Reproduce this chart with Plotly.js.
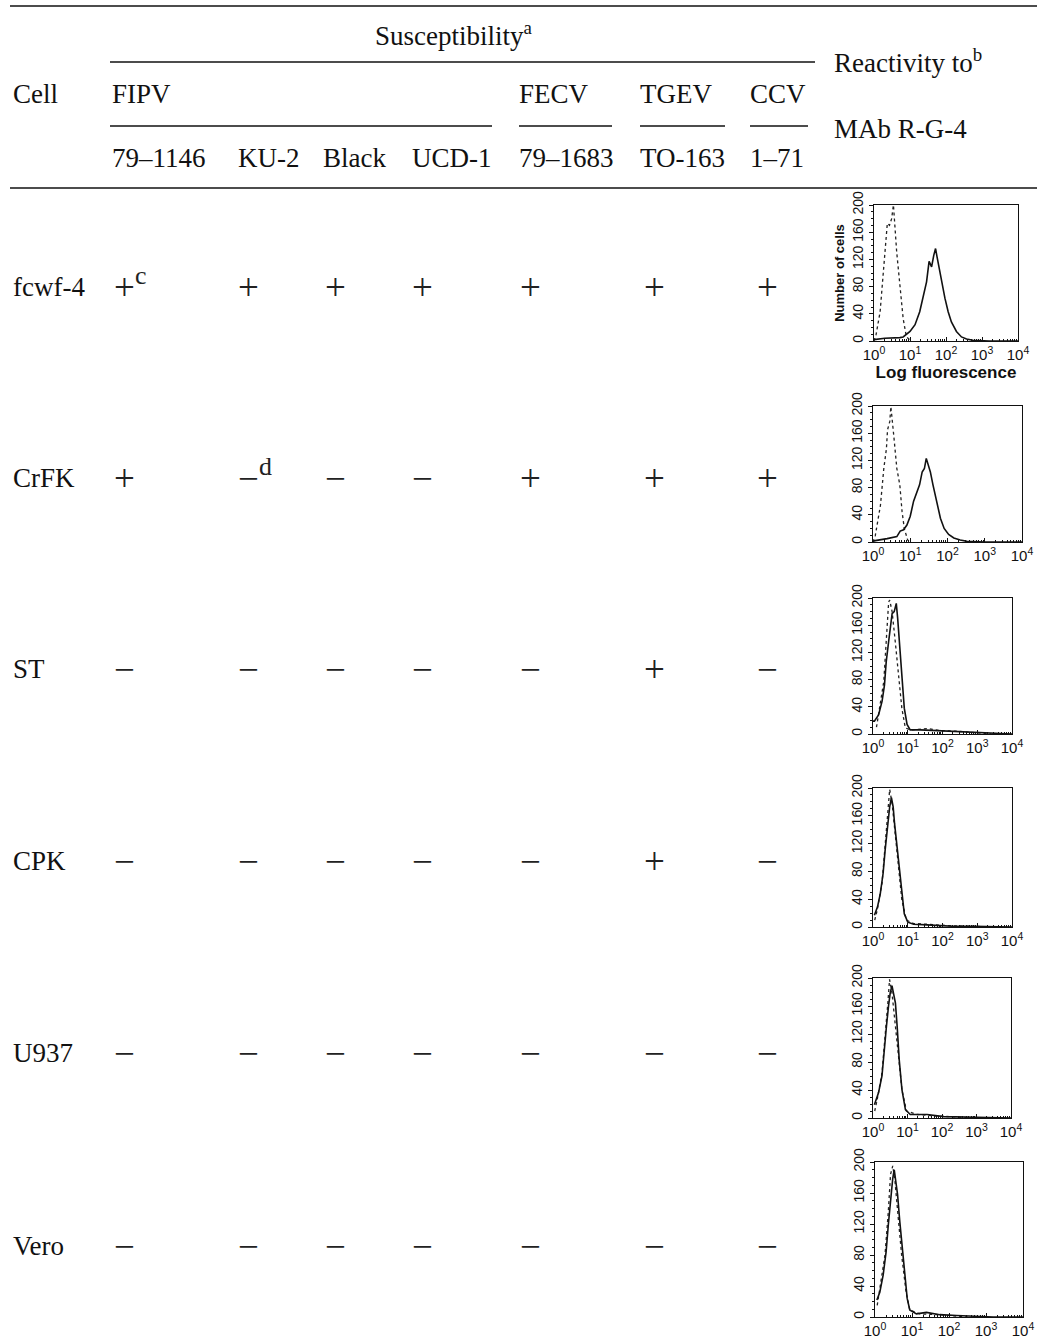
<!DOCTYPE html>
<html>
<head>
<meta charset="utf-8">
<script src="https://cdn.plot.ly/plotly-3.0.1.min.js"></script>
<style>html,body{margin:0;padding:0;background:#fff;}#chart{width:1037px;height:1339px;}</style>
</head>
<body>
<div id="chart"></div>
<script>
// ---------------- DATA ----------------
const cells = ['fcwf-4', 'CrFK', 'ST', 'CPK', 'U937', 'Vero'];
const virusGroups = ['FIPV', 'FECV', 'TGEV', 'CCV'];
const strains = ['79\u20131146', 'KU-2', 'Black', 'UCD-1', '79\u20131683', 'TO-163', '1\u201371'];
const susceptibility = [
  ['+', '+', '+', '+', '+', '+', '+'],
  ['+', '\u2212', '\u2212', '\u2212', '+', '+', '+'],
  ['\u2212', '\u2212', '\u2212', '\u2212', '\u2212', '+', '\u2212'],
  ['\u2212', '\u2212', '\u2212', '\u2212', '\u2212', '+', '\u2212'],
  ['\u2212', '\u2212', '\u2212', '\u2212', '\u2212', '\u2212', '\u2212'],
  ['\u2212', '\u2212', '\u2212', '\u2212', '\u2212', '\u2212', '\u2212']
];
const footnoteMarks = [['c', '', '', '', '', '', ''], ['', 'd', '', '', '', '', ''], [], [], [], []];
const headerSuscept = 'Susceptibility';
const headerReact1 = 'Reactivity to';
const headerReact2 = 'MAb R-G-4';
const yTicks = [0, 40, 80, 120, 160, 200];
const xTickExp = [0, 1, 2, 3, 4];

// Histograms: log10 fluorescence (decades) and number of cells
const fcwf4_ctrl_log = [0.0, 0.06, 0.17, 0.26, 0.37, 0.43, 0.49, 0.54, 0.63, 0.72, 0.81, 0.9, 1.04];
const fcwf4_ctrl_cnt = [0, 10, 43, 107, 173, 170, 180, 200, 131, 82, 33, 6, 0];
const fcwf4_mab_log = [0.0, 0.3, 0.72, 0.81, 1.0, 1.14, 1.27, 1.37, 1.46, 1.53, 1.6, 1.66, 1.71, 1.75, 1.81, 1.88, 1.97, 2.06, 2.15, 2.29, 2.43, 2.57, 2.75, 3.2, 4.0];
const fcwf4_mab_cnt = [2, 4, 5, 6, 14, 24, 43, 68, 87, 117, 109, 126, 136, 124, 107, 87, 63, 43, 28, 14, 6, 3, 1, 0, 0];

const crfk_ctrl_log = [0.0, 0.06, 0.2, 0.29, 0.36, 0.39, 0.45, 0.48, 0.56, 0.64, 0.72, 0.78, 0.84, 0.93, 1.0];
const crfk_ctrl_cnt = [0, 9, 54, 108, 137, 165, 177, 199, 155, 108, 84, 45, 20, 3, 0];
const crfk_mab_log = [0.0, 0.06, 0.38, 0.64, 0.73, 0.82, 0.91, 1.0, 1.09, 1.18, 1.25, 1.32, 1.38, 1.43, 1.47, 1.54, 1.61, 1.7, 1.81, 1.91, 2.03, 2.17, 2.34, 2.52, 3.0, 4.0];
const crfk_mab_cnt = [1, 2, 5, 8, 16, 18, 25, 38, 60, 74, 84, 103, 108, 123, 116, 103, 84, 60, 35, 20, 11, 6, 3, 1, 0, 0];

const st_ctrl_log = [0.1, 0.16, 0.31, 0.38, 0.45, 0.48, 0.55, 0.64, 0.74, 0.83, 0.93, 1.07, 1.56, 1.94, 2.42, 2.9, 3.4];
const st_ctrl_cnt = [10, 28, 77, 136, 194, 197, 180, 136, 87, 38, 9, 6, 8, 5, 4, 2, 0];
const st_mab_log = [0.0, 0.04, 0.16, 0.26, 0.33, 0.38, 0.45, 0.5, 0.55, 0.61, 0.67, 0.71, 0.77, 0.83, 0.9, 0.98, 1.07, 1.36, 1.75, 2.23, 2.51, 2.9, 3.3, 4.0];
const st_mab_cnt = [19, 19, 28, 48, 72, 106, 136, 160, 177, 180, 192, 170, 126, 77, 38, 14, 6, 6, 5, 4, 4, 2, 1, 0];

const cpk_ctrl_log = [0.05, 0.12, 0.26, 0.35, 0.43, 0.48, 0.55, 0.64, 0.74, 0.83, 0.96, 1.17, 1.55, 2.13, 2.9, 3.5];
const cpk_ctrl_cnt = [10, 24, 63, 116, 168, 198, 178, 130, 82, 39, 10, 5, 4, 2, 1, 0];
const cpk_mab_log = [0.04, 0.13, 0.21, 0.29, 0.35, 0.42, 0.48, 0.53, 0.58, 0.62, 0.69, 0.76, 0.83, 0.9, 1.0, 1.17, 1.55, 1.94, 2.32, 2.9, 4.0];
const cpk_mab_cnt = [17, 29, 48, 77, 111, 145, 173, 186, 173, 149, 116, 82, 43, 19, 7, 4, 3, 2, 1, 1, 0];

const u937_ctrl_log = [0.05, 0.12, 0.26, 0.36, 0.43, 0.48, 0.55, 0.65, 0.74, 0.84, 0.97, 1.28, 1.76, 2.24, 3.0];
const u937_ctrl_cnt = [10, 26, 64, 117, 164, 198, 179, 131, 83, 40, 10, 5, 3, 2, 0];
const u937_mab_log = [0.04, 0.16, 0.26, 0.33, 0.39, 0.45, 0.5, 0.55, 0.6, 0.65, 0.7, 0.76, 0.84, 0.94, 1.08, 1.57, 2.05, 2.72, 3.3, 4.0];
const u937_mab_cnt = [19, 36, 60, 93, 131, 160, 179, 189, 174, 164, 131, 83, 40, 12, 5, 5, 2, 1, 0, 0];

const vero_ctrl_log = [0.06, 0.13, 0.27, 0.36, 0.42, 0.48, 0.54, 0.63, 0.72, 0.84, 0.94, 1.21, 1.75, 2.5];
const vero_ctrl_cnt = [15, 37, 80, 136, 184, 195, 175, 127, 80, 32, 9, 4, 3, 0];
const vero_mab_log = [0.05, 0.13, 0.22, 0.3, 0.36, 0.42, 0.48, 0.52, 0.57, 0.61, 0.67, 0.75, 0.81, 0.87, 0.94, 1.12, 1.39, 1.75, 2.2, 2.65, 3.2, 4.0];
const vero_mab_cnt = [22, 32, 54, 84, 119, 153, 179, 190, 175, 158, 123, 84, 50, 24, 9, 4, 6, 3, 2, 1, 0, 0];

const histograms = [
  [fcwf4_ctrl_log, fcwf4_ctrl_cnt, fcwf4_mab_log, fcwf4_mab_cnt],
  [crfk_ctrl_log, crfk_ctrl_cnt, crfk_mab_log, crfk_mab_cnt],
  [st_ctrl_log, st_ctrl_cnt, st_mab_log, st_mab_cnt],
  [cpk_ctrl_log, cpk_ctrl_cnt, cpk_mab_log, cpk_mab_cnt],
  [u937_ctrl_log, u937_ctrl_cnt, u937_mab_log, u937_mab_cnt],
  [vero_ctrl_log, vero_ctrl_cnt, vero_mab_log, vero_mab_cnt]
];

// ---------------- LAYOUT (pixel positions / styling) ----------------
const W = 1037, H = 1339;
const px = v => v / W;
const py = v => 1 - v / H;
const serif = 'Liberation Serif, Times New Roman, serif';
const sans = 'Liberation Sans, Arial, sans-serif';
const ink = '#111';

const rowY = [287, 478, 669, 861, 1053, 1246];
const symLeft = [112, 236, 323, 410, 518, 642, 755];
const strainLeft = [112, 238, 323, 412, 519, 640, 750];
const groupLeft = [112, 519, 640, 750];
// plot frames: [left, right, top, bottom]
const boxes = [[874, 1018, 205, 341], [873, 1022, 406, 542], [873, 1012, 598, 734],
               [873, 1012, 788, 927], [873, 1011, 978, 1118], [875, 1023, 1162, 1317]];

const annotations = [];
function txt(text, x, y, opts) {
  annotations.push(Object.assign({
    text: text, x: px(x), y: py(y), xref: 'paper', yref: 'paper',
    xanchor: 'left', yanchor: 'middle', showarrow: false,
    font: {family: serif, size: 27, color: ink}
  }, opts || {}));
}

txt(headerSuscept + '<sup>a</sup>', 454, 34, {xanchor: 'center'});
txt('Cell', 11, 94);
virusGroups.forEach((g, i) => txt(g, groupLeft[i] - 2, 94));
strains.forEach((s, i) => txt(s, strainLeft[i] - 2, 158));
txt(headerReact1 + '<sup>b</sup>', 832, 61);
txt(headerReact2, 832, 129);

const symSize = 37;
cells.forEach((c, r) => {
  txt(c, 11, rowY[r]);
  susceptibility[r].forEach((s, j) => {
    const mark = (footnoteMarks[r] && footnoteMarks[r][j]) ? footnoteMarks[r][j] : '';
    txt(s + (mark ? '<sup style="font-size:19px">' + mark + '</sup>' : ''), symLeft[j], rowY[r] + 23,
        {font: {family: serif, size: symSize, color: '#222'}, yanchor: 'bottom'});
  });
});

const shapes = [];
function hline(x0, x1, y, w) {
  shapes.push({type: 'line', xref: 'paper', yref: 'paper', x0: px(x0), x1: px(x1), y0: py(y), y1: py(y),
               line: {color: ink, width: w || 1.3}});
}
hline(10, 1037, 6, 1.5);
hline(110, 815, 62);
hline(110, 492, 126);
hline(519, 612, 126);
hline(640, 725, 126);
hline(750, 808, 126);
hline(10, 1037, 188, 1.5);

const traces = [];
const layout = {
  width: W, height: H, margin: {l: 0, r: 0, t: 0, b: 0},
  paper_bgcolor: '#fff', plot_bgcolor: '#fff', showlegend: false,
  annotations: annotations, shapes: shapes
};

const minorVals = [];
for (let d = 0; d < 4; d++) for (let k = 2; k <= 9; k++) minorVals.push(k * Math.pow(10, d));

histograms.forEach((h, i) => {
  const n = i + 1;
  const xa = 'x' + (n === 1 ? '' : n), ya = 'y' + (n === 1 ? '' : n);
  const b = boxes[i];
  traces.push({x: h[0].map(v => Math.pow(10, v)), y: h[1], xaxis: xa, yaxis: ya, mode: 'lines',
               line: {color: '#222', width: 1.3, dash: 'dot'}, hoverinfo: 'skip'});
  traces.push({x: h[2].map(v => Math.pow(10, v)), y: h[3], xaxis: xa, yaxis: ya, mode: 'lines',
               line: {color: '#111', width: 1.6}, hoverinfo: 'skip'});
  const xk = 'xaxis' + (n === 1 ? '' : n), yk = 'yaxis' + (n === 1 ? '' : n);
  layout[xk] = {
    type: 'log', range: [0, 4], domain: [px(b[0]), px(b[1])], anchor: ya,
    showline: true, mirror: true, linecolor: ink, linewidth: 1.3, showgrid: false, zeroline: false,
    tickmode: 'array', tickvals: xTickExp.map(e => Math.pow(10, e)),
    ticktext: xTickExp.map(e => '10<sup>' + e + '</sup>'),
    ticks: 'inside', ticklen: 4, tickcolor: ink, tickwidth: 1,
    minor: {tickmode: 'array', tickvals: minorVals, ticks: 'inside', ticklen: 2.5, tickcolor: ink, showgrid: false},
    tickfont: {family: sans, size: 15, color: ink}, fixedrange: true
  };
  layout[yk] = {
    range: [0, 200], domain: [py(b[3]), py(b[2])], anchor: xa,
    showline: true, mirror: true, linecolor: ink, linewidth: 1.3, showgrid: false, zeroline: false,
    tickmode: 'array', tickvals: yTicks, tickangle: -90,
    ticks: 'outside', ticklen: 4, tickcolor: ink, tickwidth: 1,
    minor: {dtick: 10, ticks: 'outside', ticklen: 2, tickcolor: ink, showgrid: false},
    tickfont: {family: sans, size: 14, color: ink}, fixedrange: true
  };
  if (n === 1) {
    layout[xk].title = {text: '<b>Log fluorescence</b>', font: {family: sans, size: 17, color: ink}, standoff: 0};
    layout[yk].title = {text: '<b>Number of cells</b>', font: {family: sans, size: 13, color: ink}, standoff: 2};
  }
});

Plotly.newPlot('chart', traces, layout, {staticPlot: true, displayModeBar: false});
</script>
</body>
</html>
